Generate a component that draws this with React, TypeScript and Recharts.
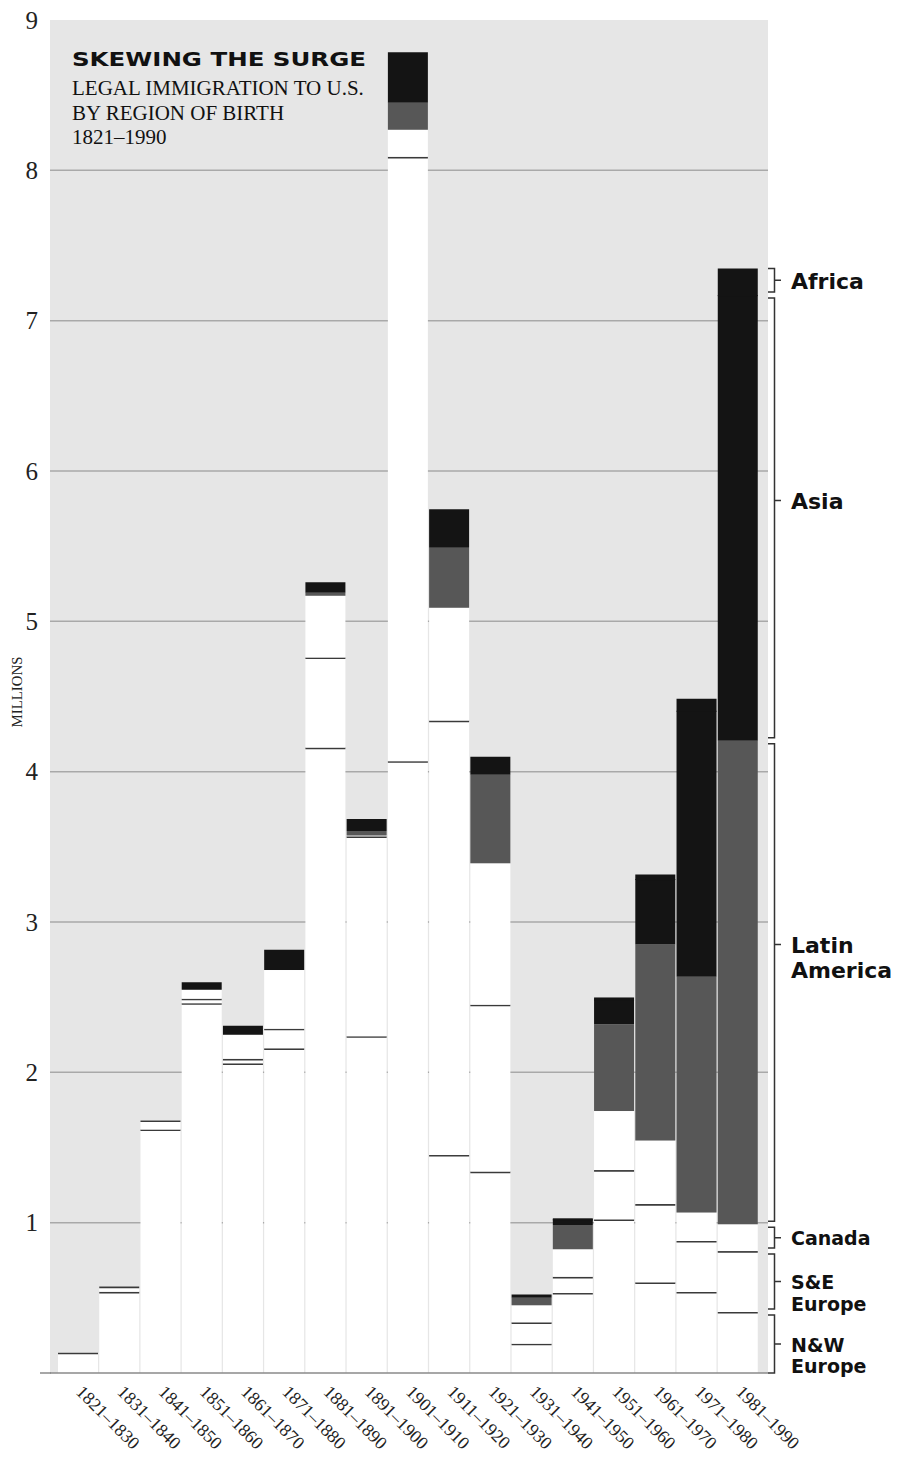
import { Bar, BarChart, CartesianGrid, XAxis, YAxis } from 'recharts'

// values in millions
const decades = [
  '1821–1830', '1831–1840', '1841–1850', '1851–1860', '1861–1870', '1871–1880',
  '1881–1890', '1891–1900', '1901–1910', '1911–1920', '1921–1930', '1931–1940',
  '1941–1950', '1951–1960', '1961–1970', '1971–1980', '1981–1990',
]
const nwEurope = [0.135, 0.54, 1.62, 2.46, 2.06, 2.16, 4.16, 2.24, 4.07, 1.45, 1.34, 0.195, 0.532, 1.022, 0.603, 0.539, 0.406]
const seEurope = [0, 0, 0, 0.03, 0.03, 0.13, 0.6, 1.33, 4.02, 2.89, 1.11, 0.142, 0.108, 0.328, 0.521, 0.339, 0.405]
const canada = [0, 0.035, 0.06, 0.06, 0.16, 0.39, 0.41, 0.005, 0.18, 0.75, 0.94, 0.113, 0.184, 0.392, 0.423, 0.19, 0.178]
const latinAmerica = [0, 0, 0, 0, 0, 0, 0.02, 0.03, 0.18, 0.4, 0.59, 0.05, 0.161, 0.578, 1.303, 1.567, 3.216]
const asia = [0, 0, 0, 0.05, 0.06, 0.135, 0.07, 0.08, 0.335, 0.255, 0.12, 0.023, 0.037, 0.164, 0.436, 1.77, 2.965]
const africa = [0, 0, 0, 0, 0, 0, 0, 0, 0, 0, 0, 0, 0.007, 0.014, 0.03, 0.08, 0.177]
const yTicks = [1, 2, 3, 4, 5, 6, 7, 8, 9]
const gridValues = [1, 2, 3, 4, 5, 6, 7, 8]

const data = decades.map((decade, i) => ({
  decade,
  nw: nwEurope[i],
  se: seEurope[i],
  canada: canada[i],
  latin: latinAmerica[i],
  asia: asia[i],
  africa: africa[i],
}))

const W = 897
const H = 1458
const TOP = 20
const BOTTOM = 1373
const Y_MAX = 9
const yPx = (v: number) => TOP + ((Y_MAX - v) * (BOTTOM - TOP)) / Y_MAX

const SERIF = '"Liberation Serif", "Times New Roman", serif'
const SANS = '"DejaVu Sans", sans-serif'
const LINE = '#3a3a3a'
const BLACK = '#141414'

function whiteSegment(topLine: (p: any) => boolean) {
  return (props: any) => {
    const { x, y, width, height } = props
    if (!(height > 0)) return <g />
    return (
      <g>
        <rect x={x} y={y} width={width} height={height} fill="#fff" />
        {topLine(props) && (
          <line x1={x} x2={x + width} y1={y + 0.8} y2={y + 0.8} stroke={LINE} strokeWidth={1.6} />
        )}
      </g>
    )
  }
}

const nwShape = whiteSegment(() => true)
const seShape = whiteSegment(() => true)
const canadaShape = whiteSegment((p) => {
  const d = p.payload || {}
  return (d.latin || 0) + (d.asia || 0) + (d.africa || 0) === 0
})

// africa sits on asia in the same black, so overlap a pixel to hide the seam
const africaShape = (props: any) => {
  const { x, y, width, height } = props
  if (!(height > 0)) return <g />
  return <rect x={x} y={y} width={width} height={height + 1} fill={BLACK} />
}

const YTick = (props: any) => {
  const { x, y, payload } = props
  return (
    <text x={x} y={y} dy="0.35em" textAnchor="end" fontFamily={SERIF} fontSize={25} fill="#222">
      {payload.value}
    </text>
  )
}

const XTick = (props: any) => {
  const { x, y, payload } = props
  return (
    <text
      x={0}
      y={0}
      transform={`translate(${x - 2.5}, ${y}) rotate(45)`}
      textAnchor="start"
      fontFamily={SERIF}
      fontSize={18}
      fill="#222"
    >
      {payload.value}
    </text>
  )
}

// legend to the right of the last bar
const last = decades.length - 1
const legendItems = [
  { label: ['N&W', 'Europe'], value: nwEurope[last], size: 19, tickAt: 0.5 },
  { label: ['S&E', 'Europe'], value: seEurope[last], size: 19, tickAt: 0.5 },
  { label: ['Canada'], value: canada[last], size: 19, tickAt: 0.5 },
  { label: ['Latin', 'America'], value: latinAmerica[last], size: 22, tickAt: 0.42 },
  { label: ['Asia'], value: asia[last], size: 22, tickAt: 0.46 },
  { label: ['Africa'], value: africa[last], size: 22, tickAt: 0.5 },
]

function Legend() {
  let cum = 0
  return (
    <g>
      {legendItems.map((item, i) => {
        const lo = cum
        cum += item.value
        const hi = cum
        const yTop = yPx(hi) + (i === legendItems.length - 1 ? 0 : 3)
        const yBot = yPx(lo) - (i === 0 ? 0 : 3)
        const yTick = yTop + (yBot - yTop) * item.tickAt
        const base = yTick + item.size * 0.41
        return (
          <g key={i}>
            <path
              d={`M768 ${yTop} H774.5 V${yBot} H768 M774.5 ${yTick} H781`}
              fill="none"
              stroke="#333"
              strokeWidth={1.5}
            />
            {item.label.map((t, j) => (
              <text
                key={j}
                x={791}
                y={base + j * item.size * 1.12}
                fontFamily={SANS}
                fontWeight="bold"
                fontSize={item.size}
                fill="#111"
              >
                {t}
              </text>
            ))}
          </g>
        )
      })}
    </g>
  )
}

export default function App() {
  return (
    <div style={{ position: 'absolute', left: 0, top: 0, width: W, height: H, background: '#fff' }}>
      <BarChart
        width={W}
        height={H}
        data={data}
        margin={{ top: TOP, right: 129, bottom: 0, left: 0 }}
        barCategoryGap={0}
        barGap={0}
      >
        <CartesianGrid
          vertical={false}
          fill="#e6e6e6"
          stroke="#a9a9a9"
          strokeWidth={1.5}
          horizontalValues={gridValues}
        />
        <XAxis
          dataKey="decade"
          height={H - BOTTOM}
          interval={0}
          tickLine={false}
          tickSize={0}
          tickMargin={20}
          padding={{ left: 7, right: 10 }}
          axisLine={{ stroke: '#8a8a8a', strokeWidth: 1.5 }}
          tick={(p: any) => <XTick {...p} />}
        />
        <YAxis
          type="number"
          domain={[0, Y_MAX]}
          ticks={yTicks}
          width={50}
          axisLine={false}
          tickLine={false}
          tickSize={0}
          tickMargin={12}
          tick={(p: any) => <YTick {...p} />}
        />
        <Bar dataKey="nw" stackId="s" barSize={40} shape={nwShape} isAnimationActive={false} />
        <Bar dataKey="se" stackId="s" barSize={40} shape={seShape} isAnimationActive={false} />
        <Bar dataKey="canada" stackId="s" barSize={40} shape={canadaShape} isAnimationActive={false} />
        <Bar dataKey="latin" stackId="s" barSize={40} fill="#575757" isAnimationActive={false} />
        <Bar dataKey="asia" stackId="s" barSize={40} fill={BLACK} isAnimationActive={false} />
        <Bar dataKey="africa" stackId="s" barSize={40} shape={africaShape} isAnimationActive={false} />
      </BarChart>
      <svg
        width={W}
        height={H}
        style={{ position: 'absolute', left: 0, top: 0, pointerEvents: 'none' }}
      >
        <line x1={40} x2={51} y1={BOTTOM} y2={BOTTOM} stroke="#8a8a8a" strokeWidth={1.5} />
        <text x={72} y={66} fontFamily={SANS} fontWeight="bold" fontSize={19} fill="#111" textLength={294} lengthAdjust="spacingAndGlyphs">
          SKEWING THE SURGE
        </text>
        <text x={72} y={95} fontFamily={SERIF} fontSize={21} fill="#111">
          LEGAL IMMIGRATION TO U.S.
        </text>
        <text x={72} y={120} fontFamily={SERIF} fontSize={21} fill="#111">
          BY REGION OF BIRTH
        </text>
        <text x={72} y={144} fontFamily={SERIF} fontSize={21} fill="#111">
          1821–1990
        </text>
        <text
          transform="translate(21.5, 692) rotate(-90)"
          textAnchor="middle"
          fontFamily={SERIF}
          fontSize={14}
          fill="#222"
          textLength={71}
          lengthAdjust="spacingAndGlyphs"
        >
          MILLIONS
        </text>
        <Legend />
      </svg>
    </div>
  )
}
